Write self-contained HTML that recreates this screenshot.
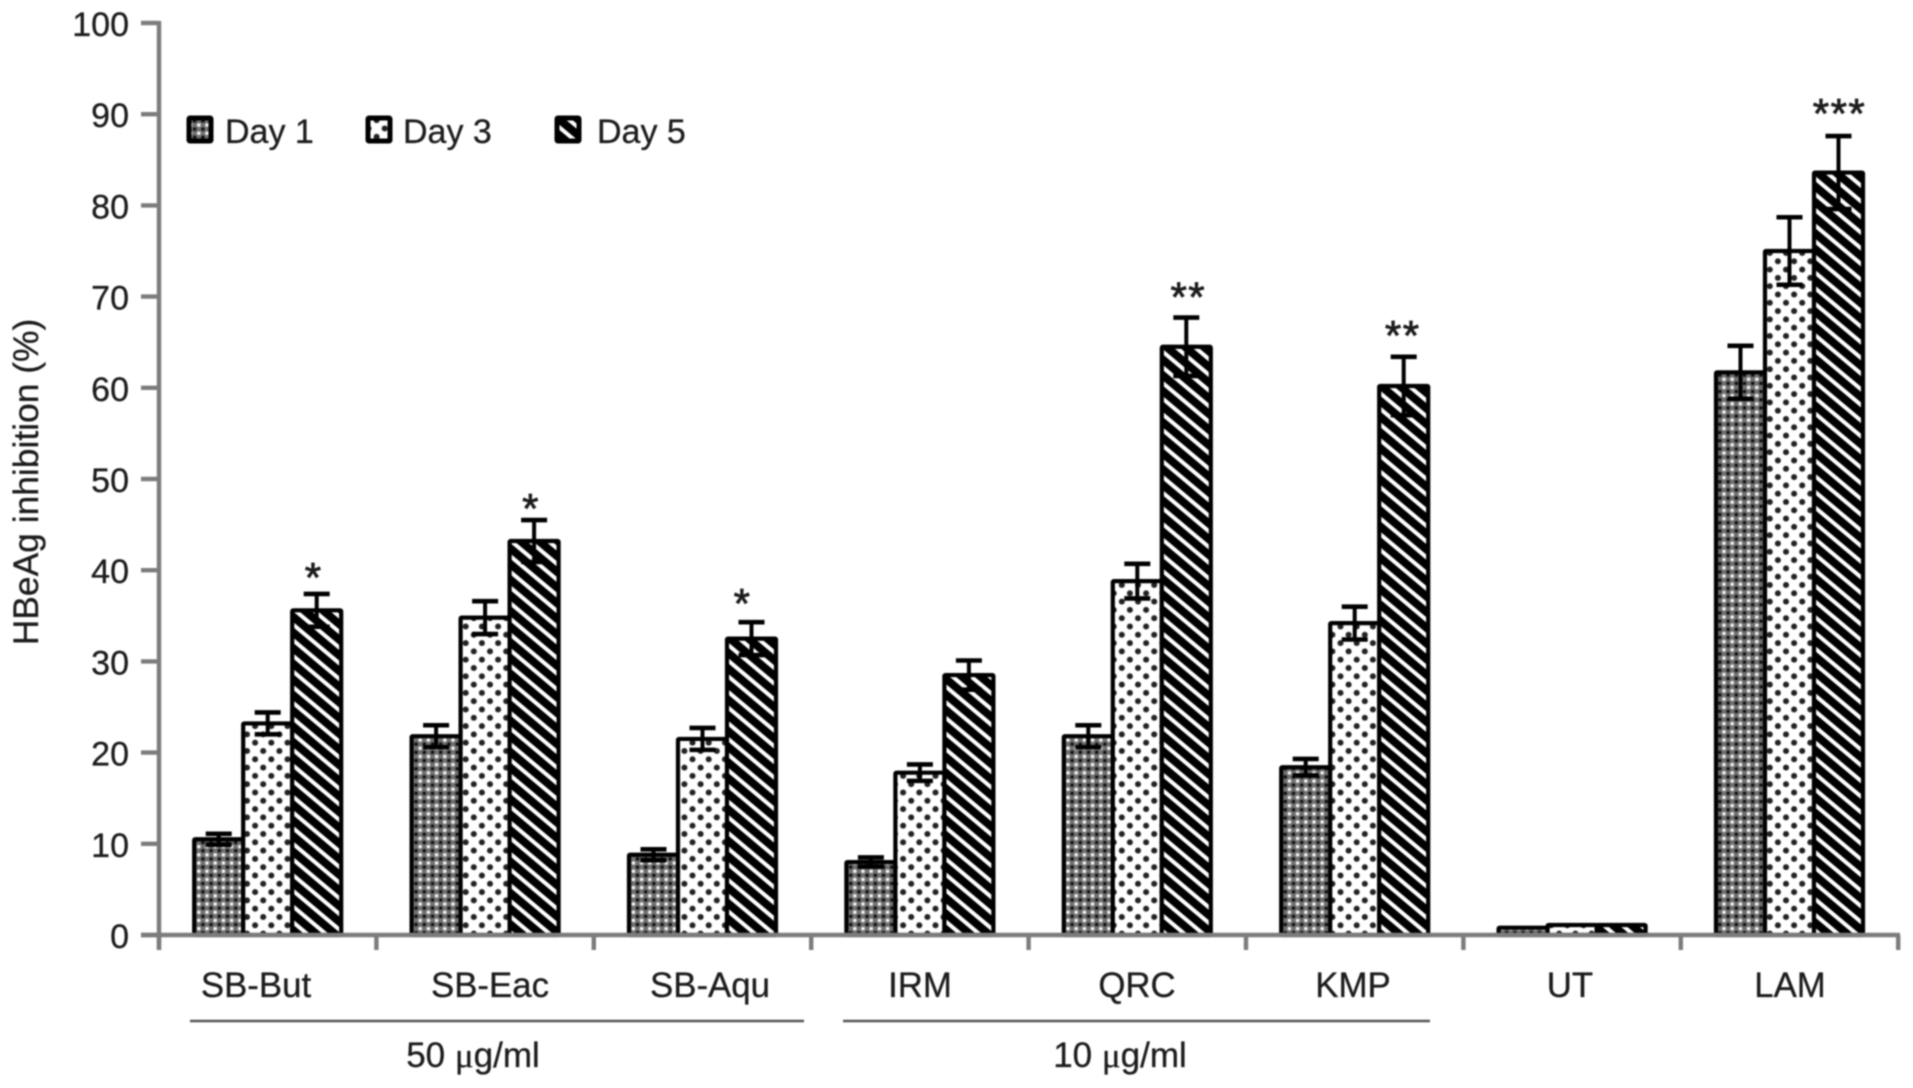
<!DOCTYPE html>
<html lang="en">
<head>
<meta charset="utf-8">
<title>HBeAg inhibition chart</title>
<style>
html,body{margin:0;padding:0;background:#fff;width:1913px;height:1088px;overflow:hidden}
svg{display:block;filter:blur(0.8px)}
text{font-family:"Liberation Sans",Arial,sans-serif;fill:#1c1c1c;stroke:#1c1c1c;stroke-width:0.3}
</style>
</head>
<body>
<svg id="chart" xmlns="http://www.w3.org/2000/svg" width="1913" height="1088" viewBox="0 0 1913 1088">
<defs>
<pattern id="p-day1" patternUnits="userSpaceOnUse" width="8.2" height="8.2">
<rect width="8.2" height="8.2" fill="#707070"/>
<circle cx="2" cy="2" r="1.8" fill="#f4f4f4"/>
<circle cx="6.1" cy="6.1" r="1.8" fill="#111"/>
</pattern>
<pattern id="p-day3" patternUnits="userSpaceOnUse" width="16.2" height="16.6">
<rect width="16.2" height="16.6" fill="#fff"/>
<circle cx="4" cy="4" r="3" fill="#222"/>
<circle cx="12.1" cy="12.3" r="3" fill="#222"/>
</pattern>
<pattern id="p-day5" patternUnits="userSpaceOnUse" width="12" height="12" patternTransform="rotate(40)">
<rect width="12" height="12" fill="#000"/>
<rect x="0" y="0" width="12" height="4" fill="#fff"/>
</pattern>
</defs>
<text transform="translate(38,482) rotate(-90)" text-anchor="middle" font-size="35.4">HBeAg inhibition (%)</text>
<g id="y-axis"></g>
<g id="bars"></g>
<g id="x-axis"></g>
<g>
<line x1="190" y1="1021" x2="804" y2="1021" stroke="#555" stroke-width="2.6"/>
<text x="473" y="1067" text-anchor="middle" font-size="35">50 <tspan font-family="'Liberation Serif',serif">μ</tspan>g/ml</text>
</g>
<g>
<line x1="843" y1="1021" x2="1430" y2="1021" stroke="#555" stroke-width="2.6"/>
<text x="1120" y="1067" text-anchor="middle" font-size="35">10 <tspan font-family="'Liberation Serif',serif">μ</tspan>g/ml</text>
</g>
<g>
<g>
<rect x="189" y="118" width="22" height="23" fill="url(#p-day1)" stroke="#000" stroke-width="5" rx="1"/>
<text x="225" y="143" font-size="34">Day 1</text>
</g>
<g>
<rect x="368" y="118" width="22" height="23" fill="url(#p-day3)" stroke="#000" stroke-width="5" rx="1"/>
<text x="403" y="143" font-size="34">Day 3</text>
</g>
<g>
<rect x="557" y="118" width="22" height="23" fill="url(#p-day5)" stroke="#000" stroke-width="5" rx="1"/>
<text x="597" y="143" font-size="34">Day 5</text>
</g>
</g>
</svg>
<script>
const categories = ['SB-But','SB-Eac','SB-Aqu','IRM','QRC','KMP','UT','LAM'];
const day1Values = [10.5,21.8,8.8,8.0,21.8,18.4,0.8,61.7];
const day3Values = [23.2,34.8,21.5,17.8,38.8,34.2,1.1,75.0];
const day5Values = [35.6,43.2,32.5,28.5,64.5,60.2,1.1,83.6];
const day1Errors = [0.6,1.2,0.6,0.5,1.2,0.9,0,2.9];
const day3Errors = [1.2,1.8,1.2,0.9,1.9,1.8,0,3.7];
const day5Errors = [1.8,2.3,1.8,1.6,3.2,3.2,0,4.0];
const significance = ['*','*','*','','**','**','','***'];
const yTicks = [0,10,20,30,40,50,60,70,80,90,100];
const labelCenters = [256,490,710,920,1137,1353,1570,1790];
const starGap = [23,18,25,0,27,28,0,29];
const starNudge = [-3,-3,-9,0,2,-1,0,1];

const svgNS = 'http://www.w3.org/2000/svg';
function yScale(v){ return 935 - v * 9.12; }
function xBand(i){ return 159 + i * 217.4; }
function xCenter(i){ return xBand(i + 0.5); }
function make(tag, parent, attrs){
  const el = document.createElementNS(svgNS, tag);
  for (const k in attrs) el.setAttribute(k, attrs[k]);
  parent.appendChild(el);
  return el;
}

const yAxis = document.getElementById('y-axis');
const xAxis = document.getElementById('x-axis');
const barsG = document.getElementById('bars');

const yLine = make('line', yAxis, {x1:159, y1:yScale(100)-2, x2:159, y2:950, stroke:'#7c7c7c', 'stroke-width':4.4});



yTicks.forEach(function(t){
  const tick = make('line', yAxis, {x1:141, y1:yScale(t), x2:159, y2:yScale(t), stroke:'#7c7c7c', 'stroke-width':4.4});
  
  
  const lab = make('text', yAxis, {x:129, y:yScale(t)+13, 'text-anchor':'end', 'font-size':34});
  
  
  lab.textContent = t;
});

const series = [
  {key:'day-1', vals:day1Values, errs:day1Errors, fill:'url(#p-day1)'},
  {key:'day-3', vals:day3Values, errs:day3Errors, fill:'url(#p-day3)'},
  {key:'day-5', vals:day5Values, errs:day5Errors, fill:'url(#p-day5)'}
];
const barStep = 49;

series.forEach(function(s, si){
  categories.forEach(function(c, i){
    const x = xCenter(i) + (si - 1.5) * barStep;
    const y = yScale(s.vals[i]);
    const bar = make('rect', barsG, {x:x, y:y, width:barStep, height:935 - y, fill:s.fill, stroke:'#000', 'stroke-width':4.2, rx:1});
    
    
  });
});

series.forEach(function(s, si){
  categories.forEach(function(c, i){
    if (!s.errs[i]) return;
    const cx = xCenter(i) + (si - 1) * barStep;
    const top = yScale(s.vals[i] + s.errs[i]);
    const bot = yScale(s.vals[i] - s.errs[i]);
    const g = make('g', barsG, {stroke:'#000', fill:'none'});
    
    
    make('line', g, {x1:cx, y1:top, x2:cx, y2:bot, 'stroke-width':4});
    make('line', g, {x1:cx-13, y1:top, x2:cx+13, y2:top, 'stroke-width':4.6});
    make('line', g, {x1:cx-13, y1:bot, x2:cx+13, y2:bot, 'stroke-width':4.6});
  });
});

significance.forEach(function(mark, i){
  if (!mark) return;
  const cx = xCenter(i) + barStep + starNudge[i];
  const top = yScale(day5Values[i] + day5Errors[i]);
  const st = make('text', barsG, {x:cx, y:top - starGap[i] + 21, 'text-anchor':'middle', 'font-size':42, 'letter-spacing':1.5, style:'stroke-width:0.8'});
  
  
  st.textContent = mark;
});

const xLine = make('line', xAxis, {x1:141, y1:935, x2:1900, y2:935, stroke:'#7c7c7c', 'stroke-width':4.4});



for (let i = 0; i <= categories.length; i++) {
  const tk = make('line', xAxis, {x1:xBand(i), y1:935, x2:xBand(i), y2:950, stroke:'#7c7c7c', 'stroke-width':4.4});
  
  
}
categories.forEach(function(c, i){
  const lab = make('text', xAxis, {x:labelCenters[i], y:997, 'text-anchor':'middle', 'font-size':34.8});
  
  
  lab.textContent = c;
});
</script>
</body>
</html>
